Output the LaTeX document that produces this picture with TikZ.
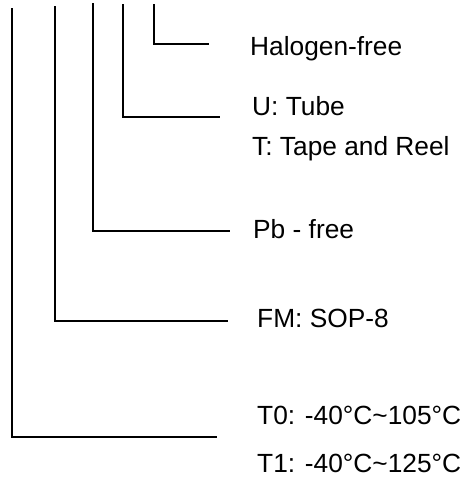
\documentclass[tikz,border=0pt]{standalone}
\usepackage{fontspec}
\setmainfont{Liberation Sans}
\usetikzlibrary{calc,positioning}

\begin{document}
\begin{tikzpicture}[
			x=1pt, y=-1pt,
			lbl/.style={anchor=base west, inner sep=0pt, font=\fontsize{26.3}{30}\selectfont},
			lead/.style={line width=1.9pt}
			]
			\useasboundingbox (0,0) rectangle (464,479);
			
			% code fields, right hand side
			\node[lbl] (halo) at (250,55) {Halogen-free};
			\node[lbl] (tube) at (252,115.7) {U: Tube};
			\node[lbl] (reel) at (252,155.7) {T: Tape and Reel};
			\node[lbl] (pbf)  at (253,238.3) {Pb - free};
			\node[lbl] (pkg)  at (257,327.3) {FM: SOP-8};
			\node[lbl] (tzero) at (257,424.3) {T0: -40°C\textasciitilde105°C};
			\node[lbl] (tone)  at (257,472.7) {T1: -40°C\textasciitilde125°C};
			
			\coordinate (top1) at (12,8);
			\coordinate (top2) at (55,6);
			\coordinate (top3) at (93,3);
			\coordinate (top4) at (123.3,4.3);
			\coordinate (top5) at (154.3,4);
			
			\coordinate (end1) at (217,437.3);
			\coordinate (end2) at (228,320.7);
			\coordinate (end3) at (229.7,231.3);
			\coordinate (end4) at (220,117.3);
			\coordinate (end5) at (209,43.7);
			
			% leader lines
			\draw[lead] (top1) |- (end1);
			\draw[lead] (top2) |- (end2);
			\draw[lead] (top3) |- (end3);
			\draw[lead] (top4) |- (end4);
			\draw[lead] (top5) |- (end5);
		\end{tikzpicture}
\end{document}
